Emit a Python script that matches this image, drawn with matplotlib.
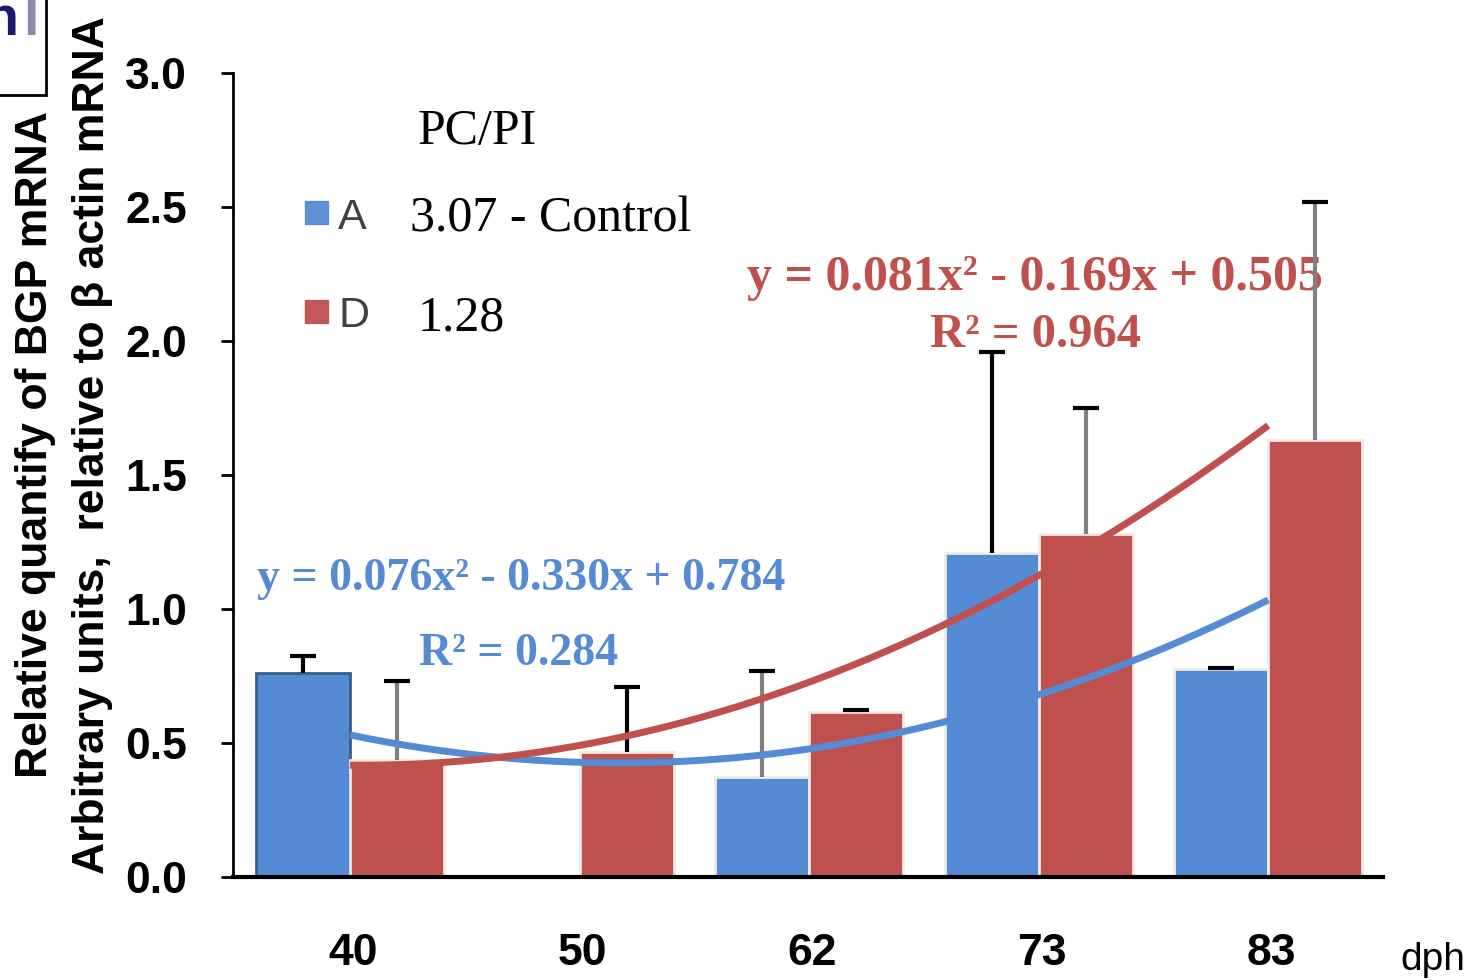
import numpy as np
import matplotlib
matplotlib.use("Agg")
import matplotlib.pyplot as plt
from matplotlib.patches import Rectangle

# sampling age (days post hatch)
dph = ["40", "50", "62", "73", "83"]

# relative BGP expression, group A (control) and group D
group_a = [0.76, 0.0, 0.375, 1.21, 0.775]
group_a_err = [0.065, 0.0, 0.395, 0.75, 0.005]
group_d = [0.437, 0.466, 0.615, 1.28, 1.63]
group_d_err = [0.295, 0.243, 0.007, 0.47, 0.89]

# quadratic trend lines (x = 1..5)
fit_a = [0.076, -0.330, 0.784]
fit_d = [0.081, -0.169, 0.505]
r2_a = 0.284
r2_d = 0.964

# PC/PI ratios
pcpi_a = "3.07 - Control"
pcpi_d = "1.28"

blue = "#558BD4"
red = "#C0504D"
cream = "#EEECE1"

sans = ["Liberation Sans", "DejaVu Sans"]
serif = ["Liberation Serif", "DejaVu Serif"]

fig = plt.figure(figsize=(14.69, 9.8), dpi=100)
ax = fig.add_axes([0.1586, 0.1051, 0.7829, 0.8204])

x = np.arange(len(dph))
w = 0.41

bars_a = ax.bar(x - w / 2, group_a, w, color=blue, edgecolor=cream, linewidth=2, zorder=2)
bars_d = ax.bar(x + w / 2, group_d, w, color=red, edgecolor=cream, linewidth=2, zorder=2)
bars_a[0].set_edgecolor("#385D8A")

# upper error bars only, mixed black / grey
err_col_a = ["black", None, "gray", "black", "black"]
err_col_d = ["gray", "black", "black", "gray", "gray"]
cap = 0.057
for xs, vals, errs, cols in [(x - w / 2, group_a, group_a_err, err_col_a),
                             (x + w / 2, group_d, group_d_err, err_col_d)]:
    for xi, v, e, c in zip(xs, vals, errs, cols):
        if c is None:
            continue
        ax.vlines(xi, v, v + e, color=c, lw=3, zorder=2.5)
        ax.hlines(v + e, xi - cap, xi + cap, color="black", lw=3, zorder=2.5)

# trend curves
xf = np.linspace(1, 5, 200)
ax.plot(xf - 1, np.polyval(fit_a, xf), color=blue, lw=5, zorder=3, solid_capstyle="butt")
ax.plot(xf - 1, np.polyval(fit_d, xf), color=red, lw=5, zorder=3, solid_capstyle="butt")


def eq_text(c):
    return "y = {:.3f}x\u00b2 - {:.3f}x + {:.3f}".format(c[0], abs(c[1]), c[2])


ax.text(2.985, 2.19, eq_text(fit_d), color=red, fontsize=36, fontweight="bold",
        family=serif, ha="center", va="baseline", zorder=2.2)
ax.text(2.985, 1.978, "R\u00b2 = {:.3f}".format(r2_d), color=red, fontsize=35,
        fontweight="bold", family=serif, ha="center", va="baseline", zorder=2.2)
ax.text(0.745, 1.071, eq_text(fit_a), color=blue, fontsize=33, fontweight="bold",
        family=serif, ha="center", va="baseline", zorder=2.2)
ax.text(0.736, 0.791, "R\u00b2 = {:.3f}".format(r2_a), color=blue, fontsize=33,
        fontweight="bold", family=serif, ha="center", va="baseline", zorder=2.2)

# key
ax.text(0.553, 2.735, "PC/PI", fontsize=36, family=serif, ha="center", va="baseline")
ax.add_patch(Rectangle((-0.198, 2.437), 0.1, 0.086, color=blue, alpha=0.95))
ax.add_patch(Rectangle((-0.198, 2.067), 0.1, 0.086, color=red, alpha=0.95))
ax.text(-0.052, 2.418, "A", fontsize=31, family=sans, color="#404040", va="baseline")
ax.text(-0.052, 2.052, "D", fontsize=31, family=sans, color="#404040", va="baseline")
ax.text(0.261, 2.41, pcpi_a, fontsize=36, family=serif, va="baseline")
ax.text(0.296, 2.041, pcpi_d, fontsize=36, family=serif, va="baseline")

ax.set_xlim(-0.51, 4.5)
ax.set_ylim(0, 3.0)
ticks = np.arange(0, 3.01, 0.5)
ax.set_yticks(ticks)
ax.set_yticklabels(["{:.1f}".format(t) for t in ticks])
ax.set_xticks(x + 0.013)
ax.set_xticklabels(dph)
for lab in ax.get_yticklabels() + ax.get_xticklabels():
    lab.set_family(sans)
    lab.set_fontweight("bold")
    lab.set_fontsize(32)
ax.tick_params(axis="y", direction="out", length=9, width=2, pad=24)
ax.tick_params(axis="x", length=0, pad=40)

ax.spines["top"].set_visible(False)
ax.spines["right"].set_visible(False)
ax.spines["left"].set_linewidth(2)
ax.spines["bottom"].set_linewidth(3)

fig.text(0.024, 0.546, "Relative quantify of BGP mRNA", rotation=90, fontsize=32,
         fontweight="bold", family=sans, ha="center", va="center")
fig.text(0.063, 0.546, "Arbitrary units,  relative to \u03b2 actin mRNA", rotation=90,
         fontsize=32, fontweight="bold", family=sans, ha="center", va="center")
fig.text(0.953, 0.0204, "dph", fontsize=28, family=sans, va="center")

# corner box left over from the panel label
fig.patches.append(Rectangle((-0.005, 0.903), 0.036, 0.11, transform=fig.transFigure,
                             fill=False, edgecolor="black", linewidth=2))
fig.text(-0.011, 0.964, "n", fontsize=40, fontweight="bold", family=sans,
         color="#1a1a6e", va="baseline")
fig.text(0.016, 0.964, "l", fontsize=40, fontweight="bold", family=sans,
         color="#8a8ab4", va="baseline")

fig.savefig("out.png", dpi=100)
